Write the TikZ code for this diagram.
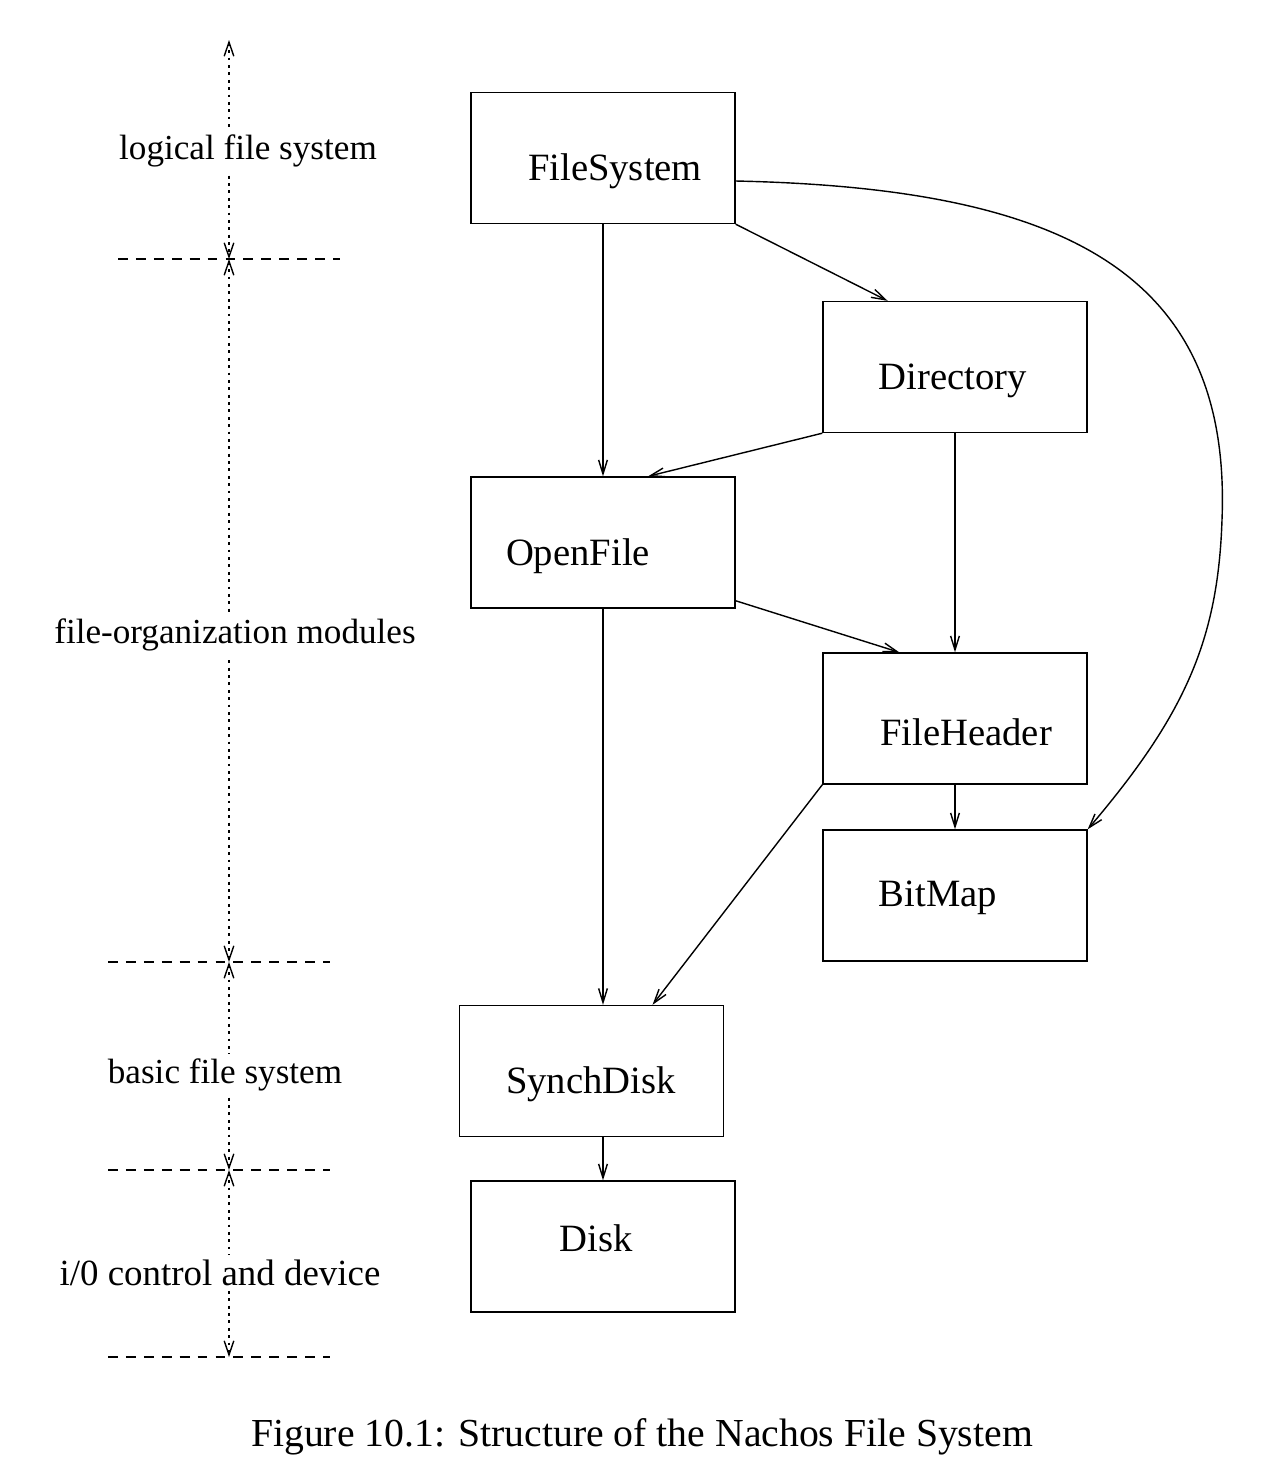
\documentclass[tikz,border=0pt]{standalone}
\usepackage{fontspec}
\setmainfont{Liberation Serif}
\usetikzlibrary{arrows.meta,calc}
\begin{document}
\begin{tikzpicture}[x=0.02cm,y=-0.02cm,
  box/.style={draw,line width=0.8pt,minimum width=5.28cm,minimum height=2.62cm,inner sep=0pt},
  boxtext/.style={inner sep=0pt,font=\fontsize{22}{26}\selectfont},
  leveltext/.style={fill=white,inner xsep=0pt,inner ysep=3pt,font=\fontsize{20}{24}\selectfont},
  conn/.style={line width=0.8pt,-{Straight Barb[length=8pt,width=5pt]}},
  levelline/.style={line width=0.8pt,dash pattern=on 1.6pt off 2.6pt,{Straight Barb[length=8pt,width=5.5pt]}-{Straight Barb[length=8pt,width=5.5pt]}},
  sepline/.style={line width=0.7pt,dash pattern=on 5.6pt off 4.6pt}]
\useasboundingbox (0,0) rectangle (1273,1482);
% boxes
\node[box] (fs) at (603,158) {};
\node[box] (dir) at (955,367) {};
\node[box] (of) at (603,542.5) {};
\node[box] (fh) at (955,718.5) {};
\node[box] (bm) at (955,895.5) {};
\node[box] (sd) at (591.5,1071) {};
\node[box] (dk) at (603,1246.5) {};
% box texts
\node[boxtext] (fsT) at (615,171) {FileSystem};
\node[boxtext] (dirT) at (953,381) {Directory};
\node[boxtext] (ofT) at (578,556) {OpenFile};
\node[boxtext] (fhT) at (966,732) {FileHeader};
\node[boxtext] (bmT) at (938,898) {BitMap};
\node[boxtext] (sdT) at (591,1084) {SynchDisk};
\node[boxtext] (dkT) at (596,1238) {Disk};
% connectors
\draw[conn] (fs.south) -- (of.north);
\draw[conn] (fs.south east) -- ($(dir.north west)!0.246!(dir.north east)$);
\draw[conn] (fs.east |- 0,181) .. controls (1060,188) and (1232,270) .. (1222,520)
  .. controls (1218,640) and (1185,715) .. (bm.north east);
\draw[conn] (dir.south west) -- ($(of.north west)!0.67!(of.north east)$);
\draw[conn] (dir.south) -- (fh.north);
\draw[conn] ($(of.north east)!0.94!(of.south east)$) -- ($(fh.north west)!0.29!(fh.north east)$);
\draw[conn] (of.south) -- (of.south |- sd.north);
\draw[conn] (fh.south west) -- ($(sd.north west)!0.73!(sd.north east)$);
\draw[conn] (fh.south) -- (bm.north);
\draw[conn] (dk.north |- sd.south) -- (dk.north);
% level markers
\coordinate (l0) at (229,40);
\coordinate (l1) at (229,259);
\coordinate (l2) at (229,962);
\coordinate (l3) at (229,1170);
\coordinate (l4) at (229,1357);
\draw[levelline] (l0) -- (l1);
\draw[levelline] (l1) -- (l2);
\draw[levelline] (l2) -- (l3);
\draw[levelline] (l3) -- (l4);
\draw[sepline] (118,259) -- (340,259);
\draw[sepline] (108,962) -- (330,962);
\draw[sepline] (108,1170) -- (330,1170);
\draw[sepline] (108,1357) -- (330,1357);
\node[leveltext] (t1) at (248,151) {logical file system};
\node[leveltext] (t2) at (235,635) {file-organization modules};
\node[leveltext] (t3) at (225,1075) {basic file system};
\node[leveltext,font=\fontsize{21}{25}\selectfont] (t4) at (220,1273) {i/0 control and device};
% caption
\node[inner sep=0pt,font=\fontsize{22.6}{27}\selectfont] (cap) at (642,1437) {Figure 10.1: Structure of the Nachos File System};
\end{tikzpicture}
\end{document}
